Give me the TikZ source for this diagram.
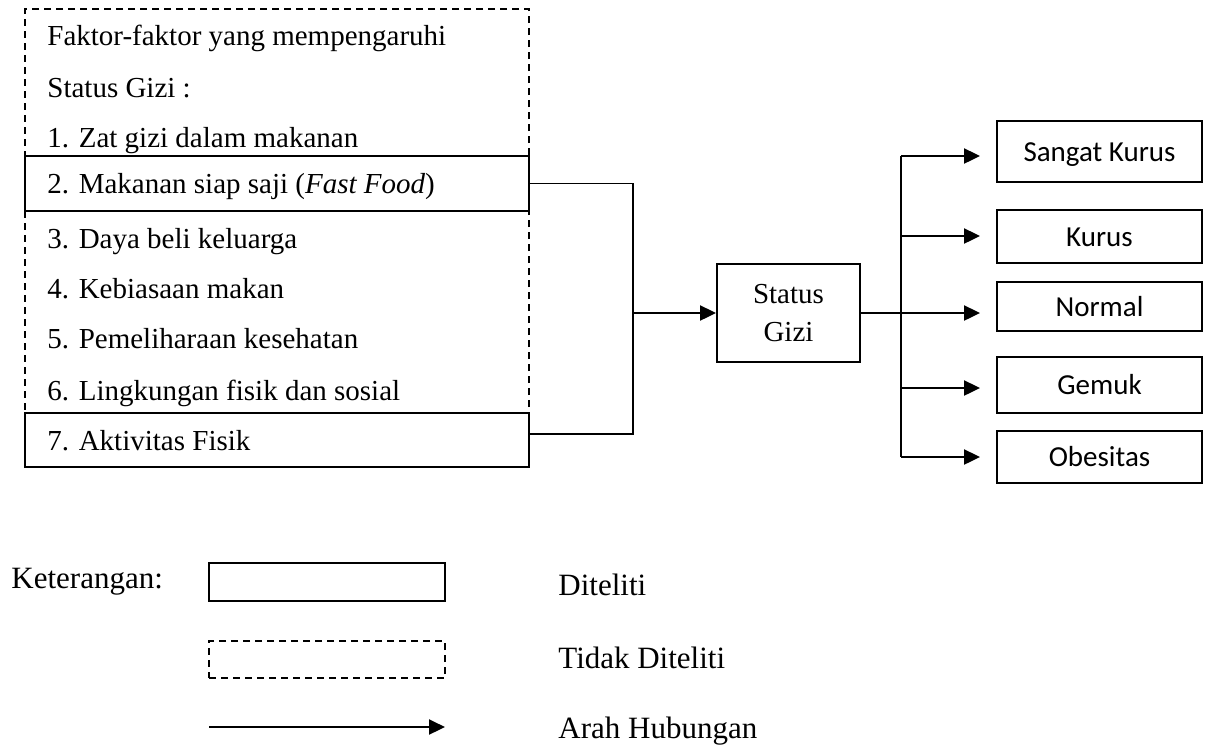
\documentclass[tikz,border=0pt]{standalone}
\usepackage{fontspec}
\setmainfont{Liberation Serif}
\newfontfamily\calibri{Carlito}
\usetikzlibrary{arrows.meta}
\begin{document}
\begin{tikzpicture}[x=0.5pt,y=-0.5pt,
  txt/.style={anchor=base west, inner sep=0pt, font=\fontsize{14.5pt}{17pt}\selectfont},
  legtxt/.style={anchor=base west, inner sep=0pt, font=\fontsize{15.5pt}{18pt}\selectfont},
  solidbox/.style={draw, line width=0.95pt, inner sep=0pt},
  dashbox/.style={draw, line width=0.95pt, dash pattern=on 3.5pt off 2.5pt, inner sep=0pt},
  outbox/.style={draw, line width=0.95pt, minimum width=102.5pt, inner sep=0pt,
    font=\calibri\fontsize{14.5pt}{17pt}\selectfont, text height=9.5pt, text depth=0pt},
  conn/.style={line width=0.8pt},
  arr/.style={line width=1.05pt, -{Triangle[length=8pt,width=7.5pt]}},
]
\useasboundingbox (0,0) rectangle (1208,746);

% left factor box
\node[dashbox, minimum width=252pt, minimum height=229pt] (factors) at (277,238) {};
\node[solidbox, minimum width=252pt, minimum height=27.5pt] (f2) at (277,183.5) {};
\node[solidbox, minimum width=252pt, minimum height=27pt] (f7) at (277,440) {};

\node[txt] (t0) at (47,45) {Faktor-faktor yang mempengaruhi};
\node[txt] (t00) at (47,97) {Status Gizi :};
\node[txt] (t1) at (47,147) {1. Zat gizi dalam makanan};
\node[txt] (t2) at (47,193) {2. Makanan siap saji (\textit{Fast Food})};
\node[txt] (t3) at (47,248) {3. Daya beli keluarga};
\node[txt] (t4) at (47,298) {4. Kebiasaan makan};
\node[txt] (t5) at (47,348) {5. Pemeliharaan kesehatan};
\node[txt] (t6) at (47,400) {6. Lingkungan fisik dan sosial};
\node[txt] (t7) at (47,450) {7. Aktivitas Fisik};

% status gizi
\node[solidbox, minimum width=71.5pt, minimum height=49pt, align=center,
  font=\fontsize{14.5pt}{19pt}\selectfont] (status) at (788.5,313) {Status\\Gizi};

% outcome boxes
\node[outbox, minimum height=30.5pt] (sk) at (1099.5,151.5) {Sangat Kurus};
\node[outbox, minimum height=26.5pt] (ku) at (1099.5,236.5) {Kurus};
\node[outbox, minimum height=24.5pt] (no) at (1099.5,306.5) {Normal};
\node[outbox, minimum height=28pt] (ge) at (1099.5,385) {Gemuk};
\node[outbox, minimum height=26pt] (ob) at (1099.5,457) {Obesitas};

% left connectors
\coordinate (jm) at (633,313);
\coordinate (jb) at (633,434);
\draw[conn] (f2.east) -| (jb) -- (f7.east |- jb);
\draw[arr] (jm) -- (status.west);

% right connectors
\coordinate (b1) at (901,156);
\coordinate (b2) at (901,236);
\coordinate (b4) at (901,388);
\coordinate (b5) at (901,457);
\draw[line width=1.05pt] (b1) -- (b5);
\draw[conn] (status.east) -- (status.east -| b1);
\draw[arr, shorten >=8pt] (status.east -| b1) -- (status.east -| no.west);
\draw[arr, shorten >=8pt] (b1) -- (b1 -| sk.west);
\draw[arr, shorten >=8pt] (b2) -- (b2 -| ku.west);
\draw[arr, shorten >=8pt] (b4) -- (b4 -| ge.west);
\draw[arr, shorten >=8pt] (b5) -- (b5 -| ob.west);

% legend
\node[legtxt] (ket) at (11,588) {Keterangan:};
\node[solidbox, minimum width=118pt, minimum height=19pt] (lg1) at (327,582) {};
\node[dashbox, minimum width=118pt, minimum height=18.5pt] (lg2) at (327,659.5) {};
\coordinate (la) at (209,727);
\coordinate (lb) at (445,727);
\draw[arr] (la) -- (lb);
\node[legtxt] (d1) at (558,595) {Diteliti};
\node[legtxt] (d2) at (558,668) {Tidak Diteliti};
\node[legtxt] (d3) at (558,738) {Arah Hubungan};
\end{tikzpicture}
\end{document}
